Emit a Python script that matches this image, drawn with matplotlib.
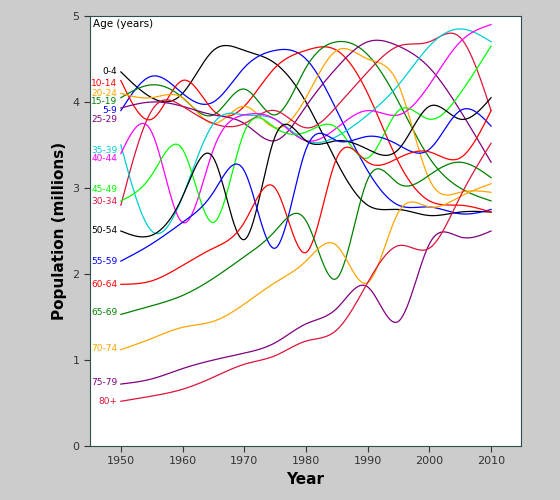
import numpy as np
import matplotlib.pyplot as plt

years = [1950, 1955, 1960, 1965, 1970, 1975, 1980, 1985, 1990, 1995, 2000, 2005, 2010]
ages = ['0-4', '5-9', '10-14', '15-19', '20-24', '25-29', '30-34', '35-39', '40-44',
        '45-49', '50-54', '55-59', '60-64', '65-69', '70-74', '75-79', '80+']
colors = ['black', 'blue', 'red', 'green', 'orange', 'purple', 'crimson', 'darkturquoise',
          'magenta', 'lime', 'black', 'blue', 'red', 'green', 'orange', 'purple', 'crimson']

pop = {
    '0-4':   [4.35, 4.05, 4.1, 4.6, 4.6, 4.45, 4.0, 3.3, 2.8, 2.75, 2.68, 2.72, 2.72],
    '5-9':   [3.9, 4.3, 4.1, 4.0, 4.4, 4.6, 4.5, 3.9, 3.2, 2.8, 2.78, 2.7, 2.75],
    '10-14': [4.25, 3.8, 4.25, 3.9, 3.95, 4.4, 4.6, 4.6, 4.1, 3.3, 2.85, 2.8, 2.72],
    '15-19': [4.05, 4.2, 4.05, 3.85, 4.15, 3.85, 4.4, 4.7, 4.55, 4.0, 3.35, 3.0, 2.85],
    '20-24': [4.1, 4.05, 4.05, 3.75, 3.95, 3.7, 4.05, 4.6, 4.5, 4.2, 3.1, 2.95, 2.95],
    '25-29': [3.93, 4.0, 3.95, 3.85, 3.75, 3.55, 3.95, 4.4, 4.7, 4.65, 4.4, 3.9, 3.3],
    '30-34': [2.8, 3.9, 3.95, 3.75, 3.75, 3.9, 3.7, 3.95, 4.35, 4.65, 4.7, 4.75, 3.9],
    '35-39': [3.5, 2.5, 2.9, 3.75, 3.85, 3.8, 3.55, 3.6, 3.85, 4.2, 4.65, 4.85, 4.7],
    '40-44': [3.4, 3.65, 2.6, 3.45, 3.85, 3.8, 3.55, 3.7, 3.9, 3.85, 4.2, 4.7, 4.9],
    '45-49': [2.85, 3.15, 3.45, 2.6, 3.65, 3.7, 3.65, 3.7, 3.35, 3.9, 3.8, 4.1, 4.65],
    '50-54': [2.5, 2.45, 2.9, 3.35, 2.4, 3.6, 3.55, 3.55, 3.45, 3.45, 3.95, 3.8, 4.05],
    '55-59': [2.15, 2.35, 2.6, 2.95, 3.2, 2.3, 3.45, 3.55, 3.6, 3.5, 3.45, 3.9, 3.72],
    '60-64': [1.88, 1.92, 2.1, 2.3, 2.6, 3.0, 2.25, 3.35, 3.3, 3.35, 3.42, 3.35, 3.9],
    '65-69': [1.53, 1.63, 1.75, 1.95, 2.2, 2.5, 2.62, 1.95, 3.1, 3.05, 3.15, 3.3, 3.12],
    '70-74': [1.12, 1.25, 1.38, 1.45, 1.65, 1.9, 2.15, 2.33, 1.9, 2.72, 2.78, 2.9, 3.05],
    '75-79': [0.72, 0.78, 0.9, 1.0, 1.08, 1.2, 1.42, 1.6, 1.85, 1.45, 2.35, 2.43, 2.5],
    '80+':   [0.52, 0.58, 0.66, 0.8, 0.95, 1.05, 1.22, 1.35, 1.9, 2.33, 2.3, 2.9, 3.52],
}
label_y = [4.35, 4.22, 4.1, 4.0, 3.9, 3.8, 3.44, 3.34, 2.98, 2.84, 2.51, 2.14, 1.88, 1.55, 1.13, 0.74, 0.52]
label_order = ['0-4', '10-14', '20-24', '15-19', '5-9', '25-29', '35-39', '40-44', '45-49',
               '30-34', '50-54', '55-59', '60-64', '65-69', '70-74', '75-79', '80+']


# natural cubic spline for smooth curves through the 5-year points
def spline(x, y, xs):
    x, y = np.asarray(x, float), np.asarray(y, float)
    n = len(x)
    h = np.diff(x)
    A = np.zeros((n, n))
    b = np.zeros(n)
    A[0, 0] = A[-1, -1] = 1
    for i in range(1, n - 1):
        A[i, i - 1], A[i, i], A[i, i + 1] = h[i - 1], 2 * (h[i - 1] + h[i]), h[i]
        b[i] = 6 * ((y[i + 1] - y[i]) / h[i] - (y[i] - y[i - 1]) / h[i - 1])
    m = np.linalg.solve(A, b)
    idx = np.clip(np.searchsorted(x, xs) - 1, 0, n - 2)
    t0, t1 = xs - x[idx], x[idx + 1] - xs
    hi = h[idx]
    return (m[idx] * t1 ** 3 + m[idx + 1] * t0 ** 3) / (6 * hi) + \
        (y[idx] / hi - m[idx] * hi / 6) * t1 + (y[idx + 1] / hi - m[idx + 1] * hi / 6) * t0


fig = plt.figure(figsize=(5.6, 5.0), dpi=100, facecolor='#cccccc')
ax = fig.add_axes([90 / 560, 54 / 500, 431 / 560, 430 / 500])
xs = np.linspace(1950, 2010, 400)
for a, c in zip(ages, colors):
    ax.plot(xs, spline(years, pop[a], xs), color=c, lw=0.9)

for a, ly in zip(label_order, label_y):
    c = colors[ages.index(a)]
    ax.text(1949.4, ly, a, color=c, fontsize=6.5, ha='right', va='center')

ax.text(1945.5, 4.97, 'Age (years)', fontsize=7.5, ha='left', va='top')
ax.set_xlim(1945, 2014.85)
ax.set_ylim(0, 5)
ax.set_xticks([1950, 1960, 1970, 1980, 1990, 2000, 2010])
ax.set_yticks([0, 1, 2, 3, 4, 5])
ax.tick_params(labelsize=8, colors='#333333', length=4)
for s in ax.spines.values():
    s.set_color('#2f4f4f')
ax.set_xlabel('Year', fontsize=11, fontweight='bold')
ax.set_ylabel('Population (millions)', fontsize=11, fontweight='bold')
fig.savefig('out.png', dpi=100, facecolor=fig.get_facecolor())
